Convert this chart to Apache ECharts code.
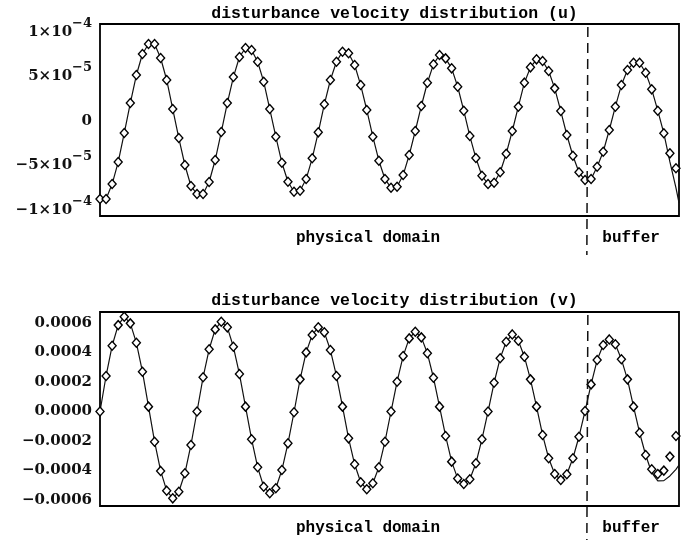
<!DOCTYPE html>
<html>
<head>
<meta charset="utf-8">
<script src="https://cdn.jsdelivr.net/npm/echarts@6.0.0/dist/echarts.min.js"></script>
<style>
  html, body { margin: 0; padding: 0; background: #fff; }
  #chart { width: 684px; height: 540px; }
</style>
</head>
<body>
<div id="chart"></div>
<script>
// ---------------- data ----------------
// sample index along the domain (0..95)
const sampleCount = 96;
// u disturbance velocity, in units of 1e-5 (markers)
const uMarkers = [
  -8.76,-8.76,-7.08,-4.61,-1.35,2.02,5.17,7.53,8.65,8.65,
  7.08,4.61,1.35,-1.91,-4.94,-7.30,-8.20,-8.20,-6.85,-4.38,
  -1.24,2.02,4.94,7.19,8.20,7.98,6.66,4.42,1.35,-1.76,
  -4.69,-6.82,-7.94,-7.83,-6.52,-4.19,-1.27,1.88,4.61,6.66,
  7.79,7.61,6.29,4.04,1.24,-1.76,-4.46,-6.52,-7.49,-7.38,
  -6.07,-3.82,-1.12,1.69,4.30,6.37,7.42,7.04,5.92,3.85,
  1.16,-1.69,-4.16,-6.15,-7.08,-6.93,-5.76,-3.67,-1.12,1.61,
  4.31,6.03,6.93,6.74,5.62,3.67,1.12,-1.57,-3.90,-5.76,
  -6.63,-6.52,-5.13,-3.45,-1.01,1.61,4.04,5.73,6.55,6.55,
  5.43,3.56,1.16,-1.38,-3.63,-5.31
];
// solid curve for u differs from markers at the end of the buffer
const uLineTailStart = 94;
const uLineTailX = [94, 95, 95.5];
const uLineTailY = [-4.6, -7.5, -9.2];

// v disturbance velocity, in units of 1e-4 (markers)
const vMarkers = [
  0.00,2.41,4.46,5.86,6.43,5.98,4.66,2.70,0.33,-2.05,
  -4.03,-5.37,-5.89,-5.44,-4.19,-2.27,0.00,2.32,4.22,5.57,
  6.09,5.71,4.39,2.54,0.33,-1.88,-3.78,-5.10,-5.55,-5.21,
  -3.97,-2.16,-0.05,2.18,4.01,5.19,5.71,5.37,4.17,2.41,
  0.33,-1.82,-3.58,-4.80,-5.27,-4.87,-3.78,-2.05,0.00,2.02,
  3.76,4.96,5.41,5.03,3.95,2.29,0.33,-1.66,-3.40,-4.55,
  -4.92,-4.60,-3.51,-1.88,0.00,1.95,3.61,4.73,5.23,4.80,
  3.72,2.18,0.33,-1.59,-3.17,-4.24,-4.64,-4.26,-3.17,-1.71,
  0.03,1.84,3.49,4.51,4.89,4.56,3.54,2.18,0.33,-1.44,
  -2.95,-3.92,-4.24,-4.01,-3.06,-1.66
];
const vLineTailStart = 91;
const vLineTailX = [91, 92, 93, 94, 95, 95.5];
const vLineTailY = [-4.15, -4.71, -4.69, -4.37, -3.92, -3.63];

// tick labels
const uTicks = [-10, -5, 0, 5, 10];          // x 1e-5
const vTicks = [-6, -4, -2, 0, 2, 4, 6];     // x 1e-4
const titles = ['disturbance velocity distribution (u)', 'disturbance velocity distribution (v)'];
const regionLabels = ['physical domain', 'buffer'];
const bufferStart = 80.3;   // sample index where the buffer zone begins

// ---------------- build ----------------
function pairs(arr) { return arr.map((v, i) => [i, v]); }
function linePairs(arr, tailStart, tx, ty) {
  const p = arr.slice(0, tailStart).map((v, i) => [i, v]);
  tx.forEach((x, i) => p.push([x, ty[i]]));
  return p;
}

const chart = echarts.init(document.getElementById('chart'), null, { renderer: 'canvas' });
const serif = 'DejaVu Serif';
const mono = 'Liberation Mono';
const ink = '#111';

const grids = [
  { left: 100, top: 24, width: 579, height: 192 },
  { left: 100, top: 312, width: 579, height: 194 }
];

function uLabel(v) {
  if (v === 0) return '{b|0}';
  const exp = Math.abs(v) >= 10 ? 4 : 5;
  const mant = Math.round(v / Math.pow(10, 5 - exp));
  const m = (mant < 0 ? '\u2212' : '') + Math.abs(mant);
  return '{b|' + m + '\u00d710}{s|\u2212' + exp + '}';
}
function vLabel(v) {
  const s = (Math.abs(v) / 1e4).toFixed(4);
  return (v < 0 ? '\u2212' : '') + s;
}

const xAxisBase = {
  type: 'value', min: 0, max: 95.5,
  axisLine: { show: false }, axisTick: { show: false },
  axisLabel: { show: false }, splitLine: { show: false }
};

const option = {
  animation: false,
  backgroundColor: '#fff',
  title: [
    { text: titles[0], left: 389.5, top: 0, textAlign: 'center',
      textStyle: { fontFamily: mono, fontWeight: 'bold', fontSize: 16.5, color: '#000' } },
    { text: titles[1], left: 389.5, top: 287, textAlign: 'center',
      textStyle: { fontFamily: mono, fontWeight: 'bold', fontSize: 16.5, color: '#000' } }
  ],
  grid: grids.map(g => Object.assign({ show: true, borderColor: '#000', borderWidth: 1.8, backgroundColor: 'transparent' }, g)),
  xAxis: [
    Object.assign({ gridIndex: 0 }, xAxisBase),
    Object.assign({ gridIndex: 1 }, xAxisBase)
  ],
  yAxis: [
    { type: 'value', gridIndex: 0, min: -10.67, max: 10.9,
      axisLine: { show: false }, axisTick: { show: false }, splitLine: { show: false },
      axisLabel: {
        customValues: uTicks, margin: 8, formatter: uLabel,
        rich: {
          b: { fontFamily: serif, fontWeight: 'bold', fontSize: 15, lineHeight: 30, color: ink },
          s: { fontFamily: serif, fontWeight: 'bold', fontSize: 13, lineHeight: 13, verticalAlign: 'top', color: ink }
        }
      } },
    { type: 'value', gridIndex: 1, min: -6.41, max: 6.75,
      axisLine: { show: false }, axisTick: { show: false }, splitLine: { show: false },
      axisLabel: {
        customValues: vTicks, margin: 8, formatter: vLabel,
        fontFamily: serif, fontWeight: 'bold', fontSize: 15, color: ink
      } }
  ],
  series: [
    { type: 'line', xAxisIndex: 0, yAxisIndex: 0, showSymbol: false, z: 2,
      data: linePairs(uMarkers, uLineTailStart, uLineTailX, uLineTailY),
      lineStyle: { color: '#111', width: 1.2 } },
    { type: 'scatter', xAxisIndex: 0, yAxisIndex: 0, z: 3,
      data: pairs(uMarkers), symbol: 'diamond', symbolSize: [8, 9],
      itemStyle: { color: '#fff', borderColor: '#000', borderWidth: 1.4, opacity: 1 } },
    { type: 'line', xAxisIndex: 1, yAxisIndex: 1, showSymbol: false, z: 2,
      data: linePairs(vMarkers, vLineTailStart, vLineTailX, vLineTailY),
      lineStyle: { color: '#111', width: 1.2 } },
    { type: 'scatter', xAxisIndex: 1, yAxisIndex: 1, z: 3,
      data: pairs(vMarkers), symbol: 'diamond', symbolSize: [8, 9],
      itemStyle: { color: '#fff', borderColor: '#000', borderWidth: 1.4, opacity: 1 } }
  ]
};
chart.setOption(option);

// annotations: buffer boundary and region names
const graphics = [];
grids.forEach((g, gi) => {
  const bx = chart.convertToPixel({ xAxisIndex: gi }, bufferStart);
  const bottom = g.top + g.height;
  graphics.push({
    type: 'line', z: 10,
    shape: { x1: bx + 1, y1: g.top + 3, x2: bx, y2: bottom + 39 },
    style: { stroke: '#111', lineWidth: 1.5, lineDash: [10, 6] }
  });
  const ly = bottom + 22;
  graphics.push({
    type: 'text', z: 10, x: chart.convertToPixel({ xAxisIndex: gi }, 44.2), y: ly,
    style: { text: regionLabels[0], font: 'bold 16px "Liberation Mono"', fill: '#000',
      textAlign: 'center', textVerticalAlign: 'middle' }
  });
  graphics.push({
    type: 'text', z: 10, x: chart.convertToPixel({ xAxisIndex: gi }, 87.6), y: ly,
    style: { text: regionLabels[1], font: 'bold 16px "Liberation Mono"', fill: '#000',
      textAlign: 'center', textVerticalAlign: 'middle' }
  });
});
chart.setOption({ graphic: graphics });
</script>
</body>
</html>
